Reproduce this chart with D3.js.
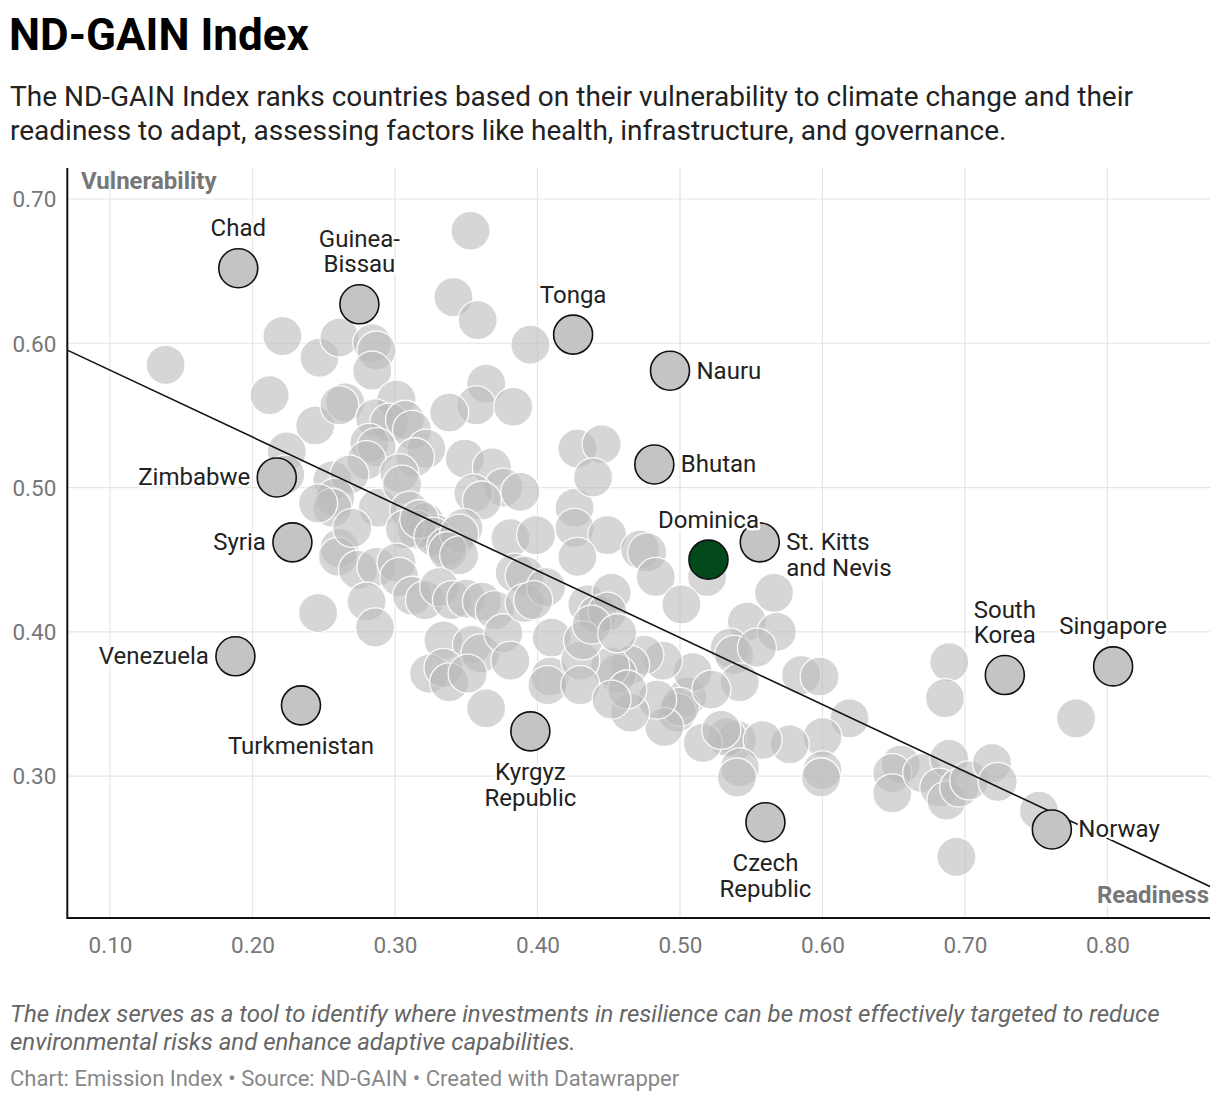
<!DOCTYPE html>
<html>
<head>
<meta charset="utf-8">
<script src="https://cdn.jsdelivr.net/npm/d3@7"></script>
<style>
  body { margin: 0; background: #fff; }
  svg { display: block; font-family: Roboto, "Noto Sans", sans-serif; }
</style>
</head>
<body>
<svg id="chart"></svg>
<script>
// unlabelled countries: readiness (x) and vulnerability (y)
const readiness = [
  0.139,0.221,0.212,0.247,0.244,0.224,0.223,0.261,0.284,0.287,0.284,0.341,0.358,0.353,0.395,0.364,
  0.357,0.338,0.383,0.265,0.261,0.301,0.286,0.296,0.307,0.312,0.282,0.287,0.322,0.314,0.280,0.256,
  0.268,0.258,0.256,0.288,0.303,0.305,0.310,0.321,0.328,0.315,0.307,0.349,0.368,0.376,0.388,0.355,
  0.361,0.348,0.317,0.327,0.336,0.345,0.381,0.384,0.337,0.345,0.261,0.260,0.274,0.287,0.301,0.303,
  0.312,0.280,0.286,0.246,0.321,0.331,0.340,0.350,0.361,0.370,0.334,0.354,0.360,0.376,0.381,0.324,
  0.334,0.338,0.351,0.364,0.391,0.391,0.410,0.409,0.407,0.406,0.426,0.426,0.399,0.428,0.445,0.439,
  0.449,0.428,0.397,0.435,0.442,0.452,0.449,0.472,0.477,0.483,0.519,0.501,0.547,0.566,0.568,0.535,
  0.538,0.554,0.542,0.585,0.598,0.619,0.600,0.577,0.600,0.599,0.540,0.533,0.558,0.542,0.540,0.516,
  0.505,0.509,0.498,0.500,0.522,0.489,0.484,0.465,0.488,0.475,0.465,0.456,0.451,0.430,0.432,0.438,
  0.456,0.463,0.430,0.529,0.689,0.686,0.778,0.655,0.649,0.649,0.670,0.689,0.682,0.687,0.696,0.703,
  0.719,0.723,0.752,0.694,0.246,0.270,0.452
];
const vulnerability = [
  0.585,0.605,0.564,0.590,0.543,0.525,0.509,0.604,0.600,0.595,0.581,0.632,0.616,0.678,0.599,0.572,
  0.557,0.552,0.556,0.559,0.557,0.561,0.548,0.545,0.547,0.540,0.531,0.528,0.527,0.521,0.519,0.505,
  0.509,0.493,0.486,0.486,0.510,0.502,0.484,0.476,0.468,0.471,0.471,0.520,0.514,0.500,0.497,0.496,
  0.491,0.472,0.478,0.466,0.459,0.468,0.465,0.441,0.456,0.453,0.458,0.452,0.443,0.445,0.448,0.438,
  0.425,0.421,0.403,0.413,0.422,0.431,0.422,0.423,0.421,0.415,0.394,0.391,0.385,0.399,0.380,0.371,
  0.375,0.365,0.371,0.347,0.439,0.420,0.396,0.369,0.363,0.431,0.486,0.472,0.467,0.527,0.530,0.507,
  0.467,0.452,0.422,0.419,0.412,0.427,0.414,0.457,0.455,0.438,0.438,0.419,0.407,0.427,0.400,0.389,
  0.384,0.389,0.365,0.370,0.369,0.340,0.327,0.322,0.304,0.299,0.325,0.327,0.325,0.306,0.299,0.323,
  0.355,0.372,0.344,0.348,0.360,0.334,0.353,0.344,0.380,0.384,0.377,0.371,0.376,0.380,0.394,0.405,
  0.399,0.360,0.363,0.332,0.379,0.354,0.340,0.308,0.302,0.288,0.302,0.312,0.292,0.283,0.292,0.297,
  0.309,0.296,0.276,0.244,0.489,0.472,0.353
];

// labelled countries
const labelNames = ["Chad", "Guinea-\nBissau", "Tonga", "Nauru", "Bhutan", "St. Kitts\nand Nevis",
  "Zimbabwe", "Syria", "Venezuela", "Turkmenistan", "Kyrgyz\nRepublic", "Czech\nRepublic",
  "South\nKorea", "Singapore", "Norway", "Dominica"];
const labelReadiness = [0.190, 0.275, 0.425, 0.493, 0.482, 0.556,
  0.217, 0.228, 0.188, 0.234, 0.395, 0.560, 0.728, 0.804, 0.761, 0.520];
const labelVulnerability = [0.652, 0.627, 0.606, 0.581, 0.516, 0.462,
  0.507, 0.462, 0.383, 0.349, 0.331, 0.268, 0.370, 0.376, 0.263, 0.450];
const highlight = "Dominica";

const xTicks = [0.1, 0.2, 0.3, 0.4, 0.5, 0.6, 0.7, 0.8];
const yTicks = [0.3, 0.4, 0.5, 0.6, 0.7];

// trend line
const trendIntercept = 0.6277;
const trendSlope = -0.4636;

// where each label sits relative to its circle
const labelSide = {
  "Chad": "top", "Guinea-\nBissau": "top", "Tonga": "top", "Nauru": "right", "Bhutan": "right",
  "St. Kitts\nand Nevis": "right", "Zimbabwe": "left", "Syria": "left", "Venezuela": "left",
  "Turkmenistan": "bottom", "Kyrgyz\nRepublic": "bottom", "Czech\nRepublic": "bottom",
  "South\nKorea": "top", "Singapore": "top", "Norway": "right", "Dominica": "top"
};

const width = 1220, height = 1102;
const plot = { left: 67.3, right: 1210, top: 168, bottom: 918 };
const r = 19.5;

const svg = d3.select("#chart").attr("width", width).attr("height", height);

const x = d3.scaleLinear().domain([0.07, 0.872]).range([plot.left, plot.right]);
const y = d3.scaleLinear().domain([0.2016, 0.7215]).range([plot.bottom, plot.top]);

// header
svg.append("text").attr("x", 9).attr("y", 50)
  .style("font-weight", 700).style("font-size", "44px").attr("fill", "#000")
  .text("ND-GAIN Index");
const sub = ["The ND-GAIN Index ranks countries based on their vulnerability to climate change and their",
  "readiness to adapt, assessing factors like health, infrastructure, and governance."];
svg.append("g").selectAll("text").data(sub).join("text")
  .attr("x", 10).attr("y", (d, i) => 106 + i * 34)
  .style("font-size", "28px").attr("fill", "#222").text(d => d);

// grid
svg.append("g").selectAll("line").data(yTicks).join("line")
  .attr("x1", plot.left).attr("x2", plot.right)
  .attr("y1", d => y(d)).attr("y2", d => y(d))
  .attr("stroke", "#e5e5e5").attr("stroke-width", 1.2);
svg.append("g").selectAll("line").data(xTicks).join("line")
  .attr("x1", d => x(d)).attr("x2", d => x(d))
  .attr("y1", plot.top).attr("y2", plot.bottom)
  .attr("stroke", "#e5e5e5").attr("stroke-width", 1.2);

// axes labels
const fmt = d3.format(".2f");
const xAxis = svg.append("g").attr("transform", `translate(0,${plot.bottom})`)
  .call(d3.axisBottom(x).tickValues(xTicks).tickFormat(fmt).tickSize(0).tickPadding(19));
const yAxis = svg.append("g").attr("transform", `translate(${plot.left},0)`)
  .call(d3.axisLeft(y).tickValues(yTicks).tickFormat(fmt).tickSize(0).tickPadding(11));
[xAxis, yAxis].forEach(a => {
  a.select(".domain").remove();
  a.selectAll("text").attr("fill", "#777").style("font-size", "22.5px")
    .style("font-family", "Roboto, sans-serif");
});
yAxis.selectAll("text").attr("dy", "0.35em");

svg.append("text").attr("x", 81).attr("y", 189)
  .style("font-weight", 700).style("font-size", "24px").attr("fill", "#777")
  .text("Vulnerability");

// unlabelled circles
const pts = readiness.map((d, i) => ({ x: d, y: vulnerability[i] }));
svg.append("g").selectAll("circle").data(pts).join("circle")
  .attr("cx", d => x(d.x)).attr("cy", d => y(d.y)).attr("r", r)
  .attr("fill", "#bbb").attr("fill-opacity", 0.6)
  .attr("stroke", "#fff").attr("stroke-width", 1.3).attr("stroke-opacity", 0.9);

// trend line
svg.append("line")
  .attr("x1", x(0.07)).attr("y1", y(trendIntercept + trendSlope * 0.07))
  .attr("x2", x(0.872)).attr("y2", y(trendIntercept + trendSlope * 0.872))
  .attr("stroke", "#111").attr("stroke-width", 1.6);

// labelled circles
const labelled = labelNames.map((n, i) => ({ name: n, x: labelReadiness[i], y: labelVulnerability[i] }));
svg.append("g").selectAll("circle").data(labelled).join("circle")
  .attr("cx", d => x(d.x)).attr("cy", d => y(d.y)).attr("r", r)
  .attr("fill", d => d.name === highlight ? "#034a1b" : "#c4c4c4")
  .attr("stroke", "#111").attr("stroke-width", 1.6);

// axes lines
svg.append("line").attr("x1", plot.left).attr("x2", plot.left)
  .attr("y1", plot.top).attr("y2", plot.bottom + 1).attr("stroke", "#111").attr("stroke-width", 2);
svg.append("line").attr("x1", plot.left).attr("x2", plot.right)
  .attr("y1", plot.bottom).attr("y2", plot.bottom).attr("stroke", "#111").attr("stroke-width", 2);

svg.append("text").attr("x", 1209).attr("y", 903).attr("text-anchor", "end")
  .style("font-weight", 700).style("font-size", "24px").attr("fill", "#777")
  .attr("stroke", "#fff").attr("stroke-width", 5).attr("paint-order", "stroke")
  .text("Readiness");

// labels
const lh = 25.5;
const lab = svg.append("g").selectAll("text").data(labelled).join("text")
  .style("font-size", "24px").attr("fill", "#222")
  .attr("stroke", "#fff").attr("stroke-width", 5).attr("stroke-linejoin", "round")
  .attr("paint-order", "stroke")
  .attr("text-anchor", d => ({ top: "middle", bottom: "middle", left: "end", right: "start" })[labelSide[d.name]]);
lab.each(function (d) {
  const side = labelSide[d.name];
  const lines = d.name.split("\n");
  const cx = x(d.x), cy = y(d.y);
  let tx = cx, first;
  if (side === "top") first = cy - 32 - (lines.length - 1) * lh;
  else if (side === "bottom") first = cy + 49;
  else { first = cy + 8; tx = side === "right" ? cx + r + 7 : cx - r - 7; }
  d3.select(this).selectAll("tspan").data(lines).join("tspan")
    .attr("x", tx).attr("y", (l, i) => first + i * lh).text(l => l);
});

// notes
const notes = ["The index serves as a tool to identify where investments in resilience can be most effectively targeted to reduce",
  "environmental risks and enhance adaptive capabilities."];
svg.append("g").selectAll("text").data(notes).join("text")
  .attr("x", 10).attr("y", (d, i) => 1022 + i * 28)
  .style("font-size", "24px").style("font-style", "italic").attr("fill", "#666").text(d => d);
svg.append("text").attr("x", 10).attr("y", 1086)
  .style("font-size", "22px").attr("fill", "#888")
  .text("Chart: Emission Index \u2022 Source: ND-GAIN \u2022 Created with Datawrapper");
</script>
</body>
</html>
